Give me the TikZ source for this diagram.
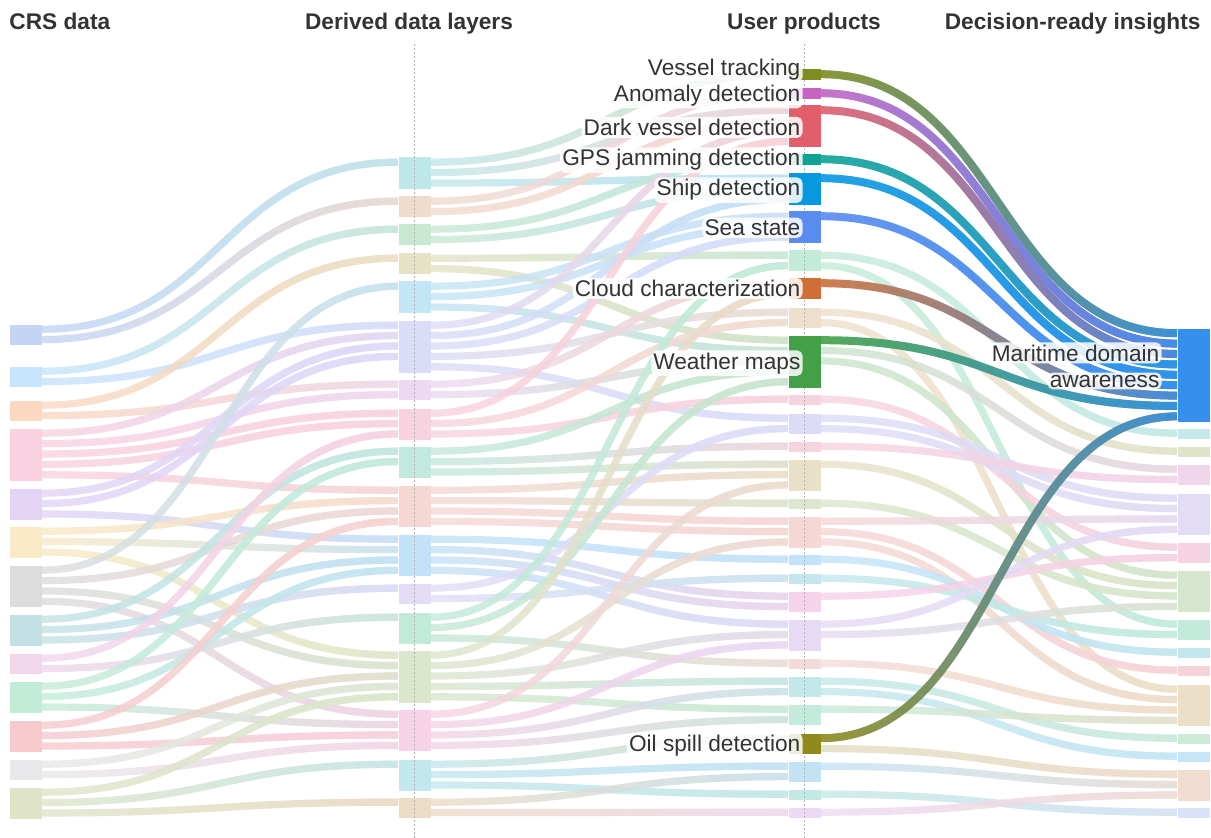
\documentclass[tikz,border=0pt]{standalone}
\usepackage{fontspec}
\setmainfont{Liberation Sans}
\usetikzlibrary{calc,fadings,backgrounds}

% CRS data
\definecolor{n1}{HTML}{C3D4F5}\definecolor{n2}{HTML}{C6E4FC}\definecolor{n3}{HTML}{FAD8C2}
\definecolor{n4}{HTML}{F9D1E1}\definecolor{n5}{HTML}{E3D4F5}\definecolor{n6}{HTML}{F9EAC5}
\definecolor{n7}{HTML}{DCDCDC}\definecolor{n8}{HTML}{C3E1E5}\definecolor{n9}{HTML}{F1D6EC}
\definecolor{n10}{HTML}{C3ECD8}\definecolor{n11}{HTML}{F6C9CC}\definecolor{n12}{HTML}{E8E8EA}
\definecolor{n13}{HTML}{DFE4C8}
% derived layers
\definecolor{d1}{HTML}{C0E7E8}\definecolor{d2}{HTML}{F0DCCC}\definecolor{d3}{HTML}{C9E8D4}
\definecolor{d4}{HTML}{E6E2C5}\definecolor{d5}{HTML}{C3E5F5}\definecolor{d6}{HTML}{DBDCF8}
\definecolor{d7}{HTML}{ECDAF2}\definecolor{d8}{HTML}{F7D3DF}\definecolor{d9}{HTML}{C3E9DF}
\definecolor{d10}{HTML}{F5D8D4}\definecolor{d11}{HTML}{C3E2F8}\definecolor{d12}{HTML}{E2DCF7}
\definecolor{d13}{HTML}{C3E9D9}\definecolor{d14}{HTML}{DBE6CD}\definecolor{d15}{HTML}{F6D3E6}
\definecolor{d16}{HTML}{C3E7EE}\definecolor{d17}{HTML}{ECDCC5}
% user products
\definecolor{u1}{HTML}{7F8C1F}\definecolor{u2}{HTML}{C465C4}\definecolor{u3}{HTML}{E35E6B}
\definecolor{u4}{HTML}{0FA396}\definecolor{u5}{HTML}{0898E0}\definecolor{u6}{HTML}{5A8BEF}
\definecolor{u7}{HTML}{C3EBD9}\definecolor{u8}{HTML}{CF6F37}\definecolor{u9}{HTML}{EFDFCD}
\definecolor{u10}{HTML}{43A047}\definecolor{u11}{HTML}{F6D4DF}\definecolor{u12}{HTML}{DCDCF7}
\definecolor{u13}{HTML}{F6D3E1}\definecolor{u14}{HTML}{E8E1C8}\definecolor{u15}{HTML}{DBE6CD}
\definecolor{u16}{HTML}{F5D7D5}\definecolor{u17}{HTML}{C3E3F8}\definecolor{u18}{HTML}{C4E7EE}
\definecolor{u19}{HTML}{F5D3EA}\definecolor{u20}{HTML}{E6DAF4}\definecolor{u21}{HTML}{F5DBD7}
\definecolor{u22}{HTML}{C3E8EA}\definecolor{u23}{HTML}{C3EBDC}\definecolor{u24}{HTML}{8F8A1B}
\definecolor{u25}{HTML}{C3E3F5}\definecolor{u26}{HTML}{C3E9E4}\definecolor{u27}{HTML}{ECDAF5}
% insights
\definecolor{i1}{HTML}{3490EC}\definecolor{i2}{HTML}{C3E9EA}\definecolor{i3}{HTML}{DFE4C8}
\definecolor{i4}{HTML}{F0D6EB}\definecolor{i5}{HTML}{E3DCF5}\definecolor{i6}{HTML}{F6D3E2}
\definecolor{i7}{HTML}{D6E6CC}\definecolor{i8}{HTML}{C3EBDC}\definecolor{i9}{HTML}{C3E6EE}
\definecolor{i10}{HTML}{F6D3D9}\definecolor{i11}{HTML}{ECDFC8}\definecolor{i12}{HTML}{CDEBD8}
\definecolor{i13}{HTML}{C6E6F8}\definecolor{i14}{HTML}{F1DDD0}\definecolor{i15}{HTML}{D9E2F8}
\definecolor{txt}{HTML}{333333}

% pale link colours (same as node, lighter for the strong products)
\foreach \k in {1,...,13}{\xglobal\colorlet{Ln\k}{n\k}}
\foreach \k in {1,...,17}{\xglobal\colorlet{Ld\k}{d\k}}
\foreach \k in {1,...,27}{\xglobal\colorlet{Lu\k}{u\k}}
\foreach \k in {1,...,15}{\xglobal\colorlet{Li\k}{i\k}}
\foreach \k in {1,2,3,4,5,6,8,10,24}{\xglobal\colorlet{Lu\k}{u\k!28!white}}

\tikzfading[name=fadein, left color=transparent!100, right color=transparent!0]

\tikzset{every picture/.style={line width=0.75pt},
  blk/.style={rectangle, inner sep=0pt, minimum width=24pt, minimum height=#1*7.8pt, anchor=north west},
  lnk/.style={line width=5.4pt, draw opacity=0.8},
  hotlnk/.style={line width=6pt, draw opacity=0.9},
  guide/.style={draw=black!30, dash pattern=on 1.5pt off 1.5pt, line width=0.75pt},
  lbl/.style={fill=white, fill opacity=0.85, text opacity=1, rounded corners=4pt, inner sep=1.6pt,
    anchor=base east, text=txt, font=\fontsize{17}{20}\selectfont},
  head/.style={inner sep=0pt, anchor=base, text=txt, font=\bfseries\fontsize{17}{20}\selectfont}}

% band: style, colour at start, colour at end, node, slot, node, slot
\newcommand\band[7]{%
  \coordinate (fs) at ($(#4.north east)+(0,{(#5-0.5)*10.4})$);
  \coordinate (ft) at ($(#6.north west)+(0,{(#7-0.5)*10.4})$);
  \coordinate (fm) at ($(fs)!0.5!(ft)$);
  \draw[#1,#2] (fs) .. controls (fm |- fs) and (fm |- ft) .. (ft);
  \draw[#1,#3,path fading=fadein] ($(fs)+(0,-6)$) ($(fs)+(0,6)$) ($(ft)+(0,-6)$) ($(ft)+(0,6)$)
    (fs) .. controls (fm |- fs) and (fm |- ft) .. (ft);}
\newcommand\flw[4]{\band{lnk}{L#1}{L#3}{#1}{#2}{#3}{#4}}
\newcommand\hflw[4]{\band{hotlnk}{#1}{#3}{#1}{#2}{#3}{#4}}

\begin{document}
\begin{tikzpicture}[x=0.75pt,y=0.75pt,yscale=-1]
	\useasboundingbox (0,0) rectangle (1211,838);
	
	% Text Node
	\node[head, anchor=base west] (hcrs) at (9,30) {CRS data};
	% Text Node
	\node[head] (hder) at (409,30) {Derived data layers};
	% Text Node
	\node[head] (husr) at (804,30) {User products};
	% Text Node
	\node[head, anchor=base east] (hdec) at (1201,30) {Decision-ready insights};
	
	%Shape: Rectangle -- CRS data
	\node[blk=2, fill=n1] (n1) at (9,324) {};
	\node[blk=2, fill=n2] (n2) at (9,366) {};
	\node[blk=2, fill=n3] (n3) at (9,400) {};
	\node[blk=5, fill=n4] (n4) at (9,428) {};
	\node[blk=3, fill=n5] (n5) at (9,488) {};
	\node[blk=3, fill=n6] (n6) at (9,526) {};
	\node[blk=4, fill=n7] (n7) at (9,565) {};
	\node[blk=3, fill=n8] (n8) at (9,614) {};
	\node[blk=2, fill=n9] (n9) at (9,653) {};
	\node[blk=3, fill=n10] (n10) at (9,681) {};
	\node[blk=3, fill=n11] (n11) at (9,720) {};
	\node[blk=2, fill=n12] (n12) at (9,759) {};
	\node[blk=3, fill=n13] (n13) at (9,787) {};
	
	%Shape: Rectangle -- derived data layers
	\node[blk=3, fill=d1] (d1) at (398,157) {};
	\node[blk=2, fill=d2] (d2) at (398,196) {};
	\node[blk=2, fill=d3] (d3) at (398,224) {};
	\node[blk=2, fill=d4] (d4) at (398,253) {};
	\node[blk=3, fill=d5] (d5) at (398,281) {};
	\node[blk=5, fill=d6] (d6) at (398,320) {};
	\node[blk=2, fill=d7] (d7) at (398,379) {};
	\node[blk=3, fill=d8] (d8) at (398,408) {};
	\node[blk=3, fill=d9] (d9) at (398,446) {};
	\node[blk=4, fill=d10] (d10) at (398,485) {};
	\node[blk=4, fill=d11] (d11) at (398,534) {};
	\node[blk=2, fill=d12] (d12) at (398,583) {};
	\node[blk=3, fill=d13] (d13) at (398,612) {};
	\node[blk=5, fill=d14] (d14) at (398,650) {};
	\node[blk=4, fill=d15] (d15) at (398,709) {};
	\node[blk=3, fill=d16] (d16) at (398,759) {};
	\node[blk=2, fill=d17] (d17) at (398,797) {};
	
	%Shape: Rectangle -- user products (pale)
	\node[blk=2, fill=u7] (u7) at (788,250) {};
	\node[blk=2, fill=u9] (u9) at (788,307) {};
	\node[blk=1, fill=u11] (u11) at (788,394) {};
	\node[blk=2, fill=u12] (u12) at (788,413) {};
	\node[blk=1, fill=u13] (u13) at (788,441) {};
	\node[blk=3, fill=u14] (u14) at (788,459) {};
	\node[blk=1, fill=u15] (u15) at (788,498) {};
	\node[blk=3, fill=u16] (u16) at (788,516) {};
	\node[blk=1, fill=u17] (u17) at (788,554) {};
	\node[blk=1, fill=u18] (u18) at (788,573) {};
	\node[blk=2, fill=u19] (u19) at (788,591) {};
	\node[blk=3, fill=u20] (u20) at (788,619) {};
	\node[blk=1, fill=u21] (u21) at (788,658) {};
	\node[blk=2, fill=u22] (u22) at (788,676) {};
	\node[blk=2, fill=u23] (u23) at (788,704) {};
	\node[blk=2, fill=u25] (u25) at (788,761) {};
	\node[blk=1, fill=u26] (u26) at (788,789) {};
	\node[blk=1, fill=u27] (u27) at (788,807) {};
	
	%Straight Lines -- column guides
	\draw[guide] (414,44) -- (414,838);
	\draw[guide] (804,44) -- (804,838);
	
	%Shape: Rectangle -- user products (strong)
	\node[blk=1, fill=u1] (u1) at (788,69) {};
	\node[blk=1, fill=u2] (u2) at (788,88) {};
	\node[blk=4, fill=u3] (u3) at (788,105) {};
	\node[blk=1, fill=u4] (u4) at (788,154) {};
	\node[blk=3, fill=u5] (u5) at (788,173) {};
	\node[blk=3, fill=u6] (u6) at (788,211) {};
	\node[blk=2, fill=u8] (u8) at (788,278) {};
	\node[blk=5, fill=u10] (u10) at (788,335) {};
	\node[blk=2, fill=u24] (u24) at (788,733) {};
	
	%Shape: Rectangle -- insights
	\node[blk=9, fill=i1] (i1) at (1177,328) {};
	\node[blk=1, fill=i2] (i2) at (1177,428) {};
	\node[blk=1, fill=i3] (i3) at (1177,446) {};
	\node[blk=2, fill=i4] (i4) at (1177,464) {};
	\node[blk=4, fill=i5] (i5) at (1177,493) {};
	\node[blk=2, fill=i6] (i6) at (1177,542) {};
	\node[blk=4, fill=i7] (i7) at (1177,570) {};
	\node[blk=2, fill=i8] (i8) at (1177,619) {};
	\node[blk=1, fill=i9] (i9) at (1177,647) {};
	\node[blk=1, fill=i10] (i10) at (1177,665) {};
	\node[blk=4, fill=i11] (i11) at (1177,684) {};
	\node[blk=1, fill=i12] (i12) at (1177,733) {};
	\node[blk=1, fill=i13] (i13) at (1177,751) {};
	\node[blk=3, fill=i14] (i14) at (1177,769) {};
	\node[blk=1, fill=i15] (i15) at (1177,807) {};
	
	\begin{scope}[on background layer]
	%Curve Lines -- CRS data to derived layers
	\flw{n1}{1}{d1}{1} \flw{n1}{2}{d2}{1}
	\flw{n2}{1}{d3}{1} \flw{n2}{2}{d6}{1}
	\flw{n3}{1}{d4}{1} \flw{n3}{2}{d7}{1}
	\flw{n4}{1}{d6}{2} \flw{n4}{2}{d7}{2} \flw{n4}{3}{d8}{1} \flw{n4}{4}{d8}{2} \flw{n4}{5}{d10}{1}
	\flw{n5}{1}{d6}{3} \flw{n5}{2}{d6}{4} \flw{n5}{3}{d11}{1}
	\flw{n6}{1}{d10}{2} \flw{n6}{2}{d11}{2} \flw{n6}{3}{d14}{1}
	\flw{n7}{1}{d5}{1} \flw{n7}{2}{d10}{3} \flw{n7}{3}{d14}{2} \flw{n7}{4}{d15}{1}
	\flw{n8}{1}{d9}{1} \flw{n8}{2}{d11}{3} \flw{n8}{3}{d12}{1}
	\flw{n9}{1}{d8}{3} \flw{n9}{2}{d13}{1}
	\flw{n10}{1}{d9}{2} \flw{n10}{2}{d11}{4} \flw{n10}{3}{d15}{2}
	\flw{n11}{1}{d10}{4} \flw{n11}{2}{d14}{3} \flw{n11}{3}{d15}{3}
	\flw{n12}{1}{d14}{4} \flw{n12}{2}{d15}{4}
	\flw{n13}{1}{d14}{5} \flw{n13}{2}{d16}{1} \flw{n13}{3}{d17}{1}
	
	%Curve Lines -- derived layers to user products
	\flw{d1}{1}{u1}{1} \flw{d1}{2}{u3}{1} \flw{d1}{3}{u5}{1}
	\flw{d2}{1}{u2}{1} \flw{d2}{2}{u3}{2}
	\flw{d3}{1}{u4}{1} \flw{d3}{2}{u5}{2}
	\flw{d4}{1}{u7}{1} \flw{d4}{2}{u10}{1}
	\flw{d5}{1}{u6}{1} \flw{d5}{2}{u6}{2} \flw{d5}{3}{u10}{2}
	\flw{d6}{1}{u3}{3} \flw{d6}{2}{u5}{3} \flw{d6}{3}{u6}{3} \flw{d6}{4}{u9}{1} \flw{d6}{5}{u12}{1}
	\flw{d7}{1}{u8}{1} \flw{d7}{2}{u10}{3}
	\flw{d8}{1}{u3}{4} \flw{d8}{2}{u9}{2} \flw{d8}{3}{u11}{1}
	\flw{d9}{1}{u10}{4} \flw{d9}{2}{u13}{1} \flw{d9}{3}{u14}{1}
	\flw{d10}{1}{u14}{2} \flw{d10}{2}{u15}{1} \flw{d10}{3}{u16}{1} \flw{d10}{4}{u16}{2}
	\flw{d11}{1}{u17}{1} \flw{d11}{2}{u19}{1} \flw{d11}{3}{u19}{2} \flw{d11}{4}{u20}{1}
	\flw{d12}{1}{u12}{2} \flw{d12}{2}{u18}{1}
	\flw{d13}{1}{u7}{2} \flw{d13}{2}{u10}{5} \flw{d13}{3}{u21}{1}
	\flw{d14}{1}{u8}{2} \flw{d14}{2}{u16}{3} \flw{d14}{3}{u20}{2} \flw{d14}{4}{u22}{1} \flw{d14}{5}{u23}{1}
	\flw{d15}{1}{u14}{3} \flw{d15}{2}{u20}{3} \flw{d15}{3}{u22}{2} \flw{d15}{4}{u23}{2}
	\flw{d16}{1}{u24}{1} \flw{d16}{2}{u25}{1} \flw{d16}{3}{u26}{1}
	\flw{d17}{1}{u25}{2} \flw{d17}{2}{u27}{1}
	
	%Curve Lines -- user products to insights
	\flw{u7}{1}{i2}{1} \flw{u7}{2}{i8}{1}
	\flw{u9}{1}{i3}{1} \flw{u9}{2}{i11}{1}
	\flw{u10}{2}{i4}{1} \flw{u10}{3}{i7}{1}
	\flw{u11}{1}{i6}{1}
	\flw{u12}{1}{i5}{1} \flw{u12}{2}{i5}{2}
	\flw{u13}{1}{i4}{2}
	\flw{u14}{1}{i7}{2}
	\flw{u15}{1}{i7}{3}
	\flw{u16}{1}{i5}{3} \flw{u16}{2}{i10}{1} \flw{u16}{3}{i11}{2}
	\flw{u17}{1}{i9}{1}
	\flw{u18}{1}{i8}{2}
	\flw{u19}{1}{i6}{2}
	\flw{u20}{1}{i5}{4} \flw{u20}{2}{i7}{4}
	\flw{u21}{1}{i11}{3}
	\flw{u22}{1}{i12}{1} \flw{u22}{2}{i13}{1}
	\flw{u23}{1}{i11}{4}
	\flw{u24}{2}{i14}{1}
	\flw{u25}{1}{i14}{2}
	\flw{u26}{1}{i15}{1}
	\flw{u27}{1}{i14}{3}
	
	%Curve Lines -- into maritime domain awareness
	\hflw{u1}{1}{i1}{1}
	\hflw{u2}{1}{i1}{2}
	\hflw{u3}{1}{i1}{3}
	\hflw{u4}{1}{i1}{4}
	\hflw{u5}{1}{i1}{5}
	\hflw{u6}{1}{i1}{6}
	\hflw{u8}{1}{i1}{7}
	\hflw{u10}{1}{i1}{8}
	\hflw{u24}{1}{i1}{9}
	\end{scope}
	
	% Text Node
	\node[lbl] (lvt) at (803,75.7) {Vessel tracking};
	% Text Node
	\node[lbl] (lad) at (803,101.5) {Anomaly detection};
	% Text Node
	\node[lbl] (ldv) at (803,135.5) {Dark vessel detection};
	% Text Node
	\node[lbl] (lgps) at (803,166) {GPS jamming detection};
	% Text Node
	\node[lbl] (lsd) at (803,196) {Ship detection};
	% Text Node
	\node[lbl] (lss) at (803,235.5) {Sea state};
	% Text Node
	\node[lbl] (lcc) at (803,296.5) {Cloud characterization};
	% Text Node
	\node[lbl] (lwm) at (803,369) {Weather maps};
	% Text Node
	\node[lbl] (los) at (803,751.5) {Oil spill detection};
	% Text Node
	\node[lbl] (lmda) at (1162,361) {Maritime domain};
	\node[lbl] (lmdb) at (1162,387) {awareness};
	
\end{tikzpicture}
\end{document}
